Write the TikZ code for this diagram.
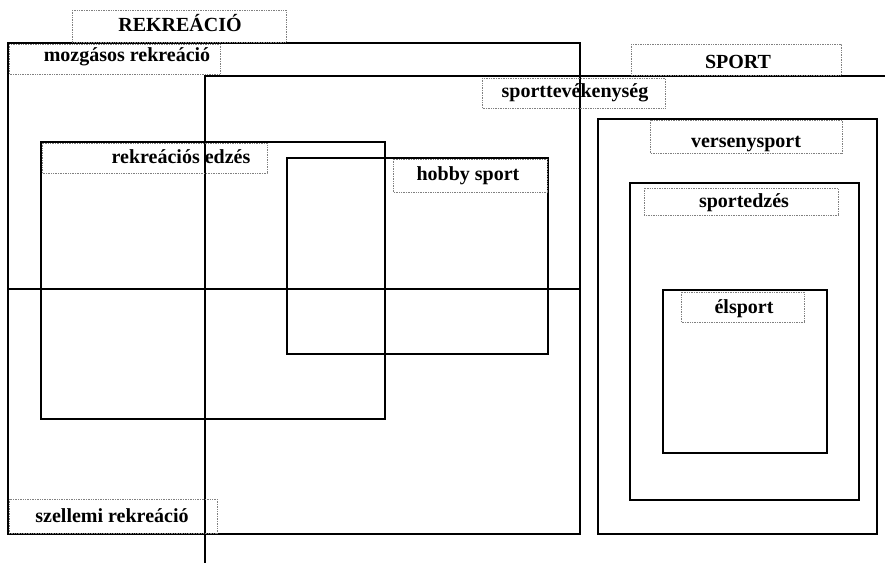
\documentclass[tikz,border=0pt]{standalone}
\usepackage{fontspec}
\setmainfont{Liberation Serif}
\begin{document}
\begin{tikzpicture}[x=1pt,y=-1pt,
  box/.style={draw=black, line width=1.4pt},
  lbl/.style={draw=gray, densely dotted, line width=0.7pt},
  txt/.style={font=\fontsize{20}{24}\selectfont\bfseries, inner sep=0pt, anchor=base}]
\useasboundingbox (0,0) rectangle (885,563);
% main boxes
\draw[box] (8,43) rectangle (580,534);
\draw[box] (8,289) -- (580,289);
\draw[box] (885,76) -- (205,76) -- (205,563);
\draw[box] (41,142) rectangle (385,419);
\draw[box] (287,158) rectangle (548,354);
\draw[box] (598,119) rectangle (877,534);
\draw[box] (630,183) rectangle (859,500);
\draw[box] (663,290) rectangle (827,453);
% label frames
\draw[lbl] (72,10) rectangle (286,42);
\draw[lbl] (9,44) rectangle (220,74);
\draw[lbl] (482,78) rectangle (665,108);
\draw[lbl] (631,44) rectangle (841,75);
\draw[lbl] (650,120) rectangle (842,153);
\draw[lbl] (644,188) rectangle (838,215);
\draw[lbl] (681,292) rectangle (804,322);
\draw[lbl] (42,143) rectangle (267,173);
\draw[lbl] (393,159) rectangle (547,192);
\draw[lbl] (9,499) rectangle (217,533);
% texts
\node[txt] (rek) at (180,31) {REKREÁCIÓ};
\node[txt] (moz) at (127,61) {mozgásos rekreáció};
\node[txt] (stev) at (575,97) {sporttevékenység};
\node[txt] (sport) at (738,68) {SPORT};
\node[txt] (vers) at (746,147) {versenysport};
\node[txt] (sped) at (744,207) {sportedzés};
\node[txt] (els) at (744,313) {élsport};
\node[txt] (rekedz) at (181,163) {rekreációs edzés};
\node[txt] (hobby) at (468,180) {hobby sport};
\node[txt] (szel) at (112,522) {szellemi rekreáció};
\end{tikzpicture}
\end{document}
